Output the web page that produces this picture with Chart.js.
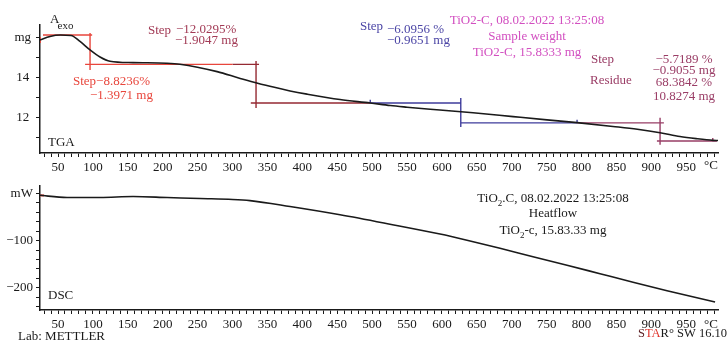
<!DOCTYPE html>
<html>
<head>
<meta charset="utf-8">
<script src="https://cdn.jsdelivr.net/npm/chart.js@4.4.1/dist/chart.umd.min.js"></script>
<style>
  html, body { margin: 0; padding: 0; background: #fff; }
  #wrap { position: relative; width: 728px; height: 343px; overflow: hidden; }
  #tga { position: absolute; left: 0; top: 0; }
  #dsc { position: absolute; left: 0; top: 172px; }
</style>
</head>
<body>
<div id="wrap">
  <canvas id="tga" width="728" height="175" style="width:728px;height:175px"></canvas>
  <canvas id="dsc" width="728" height="171" style="width:728px;height:171px"></canvas>
</div>
<script>
// temperature axis (°C)
const xMin = 24.2, xMax = 995.5;
const xTickLabels = [50, 100, 150, 200, 250, 300, 350, 400, 450, 500, 550, 600, 650, 700, 750, 800, 850, 900, 950];

// TGA curve (mg)
const tempTga = [24.2, 38.5, 53.6, 68.7, 81.5, 95.9, 110.2, 124.5, 157.5, 205.5, 224.6, 278, 311, 333.5, 358.4, 382.4, 406.7, 454, 497.3, 526, 550, 597, 644.6, 702, 750.5, 793.6, 845, 880, 912.5, 941, 965.5, 988.4, 995.5];
const massTga = [15.88, 16.05, 16.12, 16.1, 15.8, 15.38, 15.03, 14.82, 14.75, 14.72, 14.67, 14.3, 13.96, 13.75, 13.53, 13.34, 13.18, 12.91, 12.74, 12.61, 12.53, 12.39, 12.25, 12.06, 11.9, 11.76, 11.57, 11.43, 11.26, 11.07, 10.96, 10.88, 10.87];
const tgaTicks = [16, 14, 12]; // 16 is shown as "mg"

// step evaluation lines [T, mg], null = gap
const stepRed    = [[24.5, 16.02], [24.5, 15.73], null, [28.5, 16.12], [98.9, 16.12], null, [95.9, 16.22], [95.9, 14.38], null, [88.8, 14.66], [300, 14.66]];
const stepDark   = [[300, 14.66], [338, 14.66], null, [333.7, 14.83], [333.7, 12.49], null, [326.2, 12.74], [497.3, 12.74]];
const stepBlue   = [[497.3, 12.74], [497.3, 12.9], null, [497.3, 12.74], [627, 12.74], null, [627, 12.99], [627, 11.55], null, [627, 11.75], [793.6, 11.75], null, [793.6, 11.75], [793.6, 11.9]];
const stepMaroon = [[793.6, 11.75], [918, 11.75], null, [912.5, 12.0], [912.5, 10.66], null, [908, 10.85], [994, 10.85], null, [988, 10.85], [988, 11.0]];

// DSC curve (mW)
const tempDsc = [24.2, 28.5, 62.9, 110.2, 157.5, 206.2, 253.4, 300, 325, 382.4, 454, 525.6, 597.3, 635.9, 683.2, 730.5, 779.2, 826.5, 873.8, 922.5, 991.3];
const heatDsc = [-3.5, -4.3, -8.5, -8.5, -6.4, -8.5, -10.6, -12.5, -15, -27.5, -45, -65, -86, -99, -116, -134, -152, -170, -188, -206, -230];
const dscTicks = [0, -100, -200]; // 0 is shown as "mW"
const dscMark = [[24.4, -4], [30, -4]];

const FONT = 'Liberation Serif';
const INK = '#1a1a1a';

const pts = (xs, ys) => xs.map((x, i) => ({ x: x, y: ys[i] }));
const near = (list, v) => list.find(t => Math.abs(t - v) < 1e-6);
function seg(list){ // turns [x,y] pairs into points, null becomes a gap
  let lastX = 0;
  return list.map(p => {
    if (!p) return { x: lastX, y: null };
    lastX = p[0];
    return { x: p[0], y: p[1] };
  });
}
const lineDs = (data, color, w) => ({
  data, borderColor: color, borderWidth: w, pointRadius: 0, tension: 0, spanGaps: false
});

function put(c, s, x, y, color, align, size){
  c.font = `${size || 13}px "${FONT}"`;
  c.fillStyle = color;
  c.textAlign = align || 'left';
  c.textBaseline = 'middle';
  c.fillText(s, x, y);
}
function rich(c, parts, cx, y, color){ // text with subscripts, centred on cx
  let w = 0;
  parts.forEach(p => { c.font = `${p[1] ? 9 : 13}px "${FONT}"`; w += c.measureText(p[0]).width; });
  let x = cx - w / 2;
  parts.forEach(p => {
    put(c, p[0], x, p[1] ? y + 5 : y, color, 'left', p[1] ? 9 : 13);
    c.font = `${p[1] ? 9 : 13}px "${FONT}"`;
    x += c.measureText(p[0]).width;
  });
}

function xScaleOpts(h){
  return {
    type: 'linear', min: xMin, max: xMax,
    afterFit: s => { s.height = h; },
    border: { color: INK, width: 1.5 },
    grid: { drawOnChartArea: false, tickLength: 4, color: INK, tickWidth: 1 },
    ticks: {
      stepSize: 10, includeBounds: false, autoSkip: false, maxRotation: 0, padding: 3, color: INK,
      font: { family: FONT, size: 13 },
      callback: v => { const t = near(xTickLabels, v); return t !== undefined ? String(t) : ''; }
    }
  };
}

const tgaText = {
  id: 'tgaText',
  afterDraw(chart){
    const c = chart.ctx;
    c.save();
    put(c, 'A', 50, 20, INK);
    put(c, 'exo', 57.5, 26, INK, 'left', 11);
    // step 1
    put(c, 'Step\u22128.8236%', 73, 82, '#e8463c');
    put(c, '\u22121.3971 mg', 90, 96, '#e8463c');
    // step 2
    put(c, 'Step', 148, 31, '#a23a55');
    put(c, '\u221212.0295%', 176, 30, '#a23a55');
    put(c, '\u22121.9047 mg', 175, 41, '#a23a55');
    // step 3
    put(c, 'Step', 360, 27, '#4b45a5');
    put(c, '\u22126.0956 %', 387, 30, '#4b45a5');
    put(c, '\u22120.9651 mg', 387, 41, '#4b45a5');
    // sample info
    put(c, 'TiO2-C, 08.02.2022 13:25:08', 527, 21, '#d24fc0', 'center');
    put(c, 'Sample weight', 527, 37, '#d24fc0', 'center');
    put(c, 'TiO2-C, 15.8333 mg', 527, 53, '#d24fc0', 'center');
    // step 4 + residue
    put(c, 'Step', 591, 60, '#9a3d66');
    put(c, 'Residue', 590, 81, '#9a3d66');
    put(c, '\u22125.7189 %', 684, 60, '#9a3d66', 'center');
    put(c, '\u22120.9055 mg', 684, 71, '#9a3d66', 'center');
    put(c, '68.3842 %', 684, 83, '#9a3d66', 'center');
    put(c, '10.8274 mg', 684, 97, '#9a3d66', 'center');
    put(c, 'TGA', 48, 143, INK);
    put(c, '\u00b0C', 711, 166, INK, 'center');
    c.restore();
  }
};

const dscText = {
  id: 'dscText',
  afterDraw(chart){
    const c = chart.ctx;
    c.save();
    rich(c, [['TiO', 0], ['2', 1], ['.C, 08.02.2022 13:25:08', 0]], 553, 27, INK);
    put(c, 'Heatflow', 553, 42, INK, 'center');
    rich(c, [['TiO', 0], ['2', 1], ['-c, 15.83.33 mg', 0]], 553, 59, INK);
    put(c, 'DSC', 48, 124, INK);
    put(c, '\u00b0C', 711, 153, INK, 'center');
    put(c, 'Lab: METTLER', 18, 165, INK);
    // STAR° SW 16.10, right aligned
    c.font = `12.5px "${FONT}"`;
    const a = c.measureText('S').width, b = c.measureText('TA').width, r = c.measureText('R\u00b0 SW 16.10').width;
    let x = 727 - (a + b + r);
    put(c, 'S', x, 162, '#5a1e22', 'left', 12.5);
    put(c, 'TA', x + a, 162, '#e0332b', 'left', 12.5);
    put(c, 'R\u00b0 SW 16.10', x + a + b, 162, INK, 'left', 12.5);
    c.restore();
  }
};

new Chart(document.getElementById('tga'), {
  type: 'line',
  data: {
    datasets: [
      lineDs(pts(tempTga, massTga), INK, 1.6),
      lineDs(seg(stepRed), '#e8463c', 1.4),
      lineDs(seg(stepDark), '#952a33', 1.4),
      lineDs(seg(stepBlue), '#3f3d9c', 1.4),
      lineDs(seg(stepMaroon), '#983e66', 1.4)
    ]
  },
  options: {
    responsive: false, animation: false,
    layout: { padding: { left: 0, right: 10, top: 25, bottom: 0 } },
    plugins: { legend: { display: false }, tooltip: { enabled: false } },
    elements: { line: { cubicInterpolationMode: 'monotone' } },
    scales: {
      x: xScaleOpts(22),
      y: {
        min: 10.25, max: 16.62,
        afterFit: s => { s.width = 40; },
        border: { color: INK, width: 1.5 },
        grid: { drawOnChartArea: false, tickLength: 4, color: INK },
        ticks: {
          stepSize: 1, includeBounds: false, autoSkip: false, padding: 5, crossAlign: 'center', color: INK,
          font: { family: FONT, size: 13 },
          callback: v => { const t = near(tgaTicks, v); return t === undefined ? '' : (t === 16 ? 'mg' : String(t)); }
        }
      }
    }
  },
  plugins: [tgaText]
});

new Chart(document.getElementById('dsc'), {
  type: 'line',
  data: {
    datasets: [
      lineDs(pts(tempDsc, heatDsc), INK, 1.6),
      lineDs(seg(dscMark), '#e8463c', 2)
    ]
  },
  options: {
    responsive: false, animation: false,
    layout: { padding: { left: 0, right: 10, top: 14, bottom: 0 } },
    plugins: { legend: { display: false }, tooltip: { enabled: false } },
    elements: { line: { cubicInterpolationMode: 'monotone' } },
    scales: {
      x: xScaleOpts(33),
      y: {
        min: -247, max: 16,
        afterFit: s => { s.width = 40; },
        border: { color: INK, width: 1.5 },
        grid: { drawOnChartArea: false, tickLength: 4, color: INK },
        ticks: {
          stepSize: 20, includeBounds: false, autoSkip: false, padding: 3, color: INK,
          font: { family: FONT, size: 13 },
          callback: v => { const t = near(dscTicks, v); return t === undefined ? '' : (t === 0 ? 'mW' : '\u2212' + Math.abs(t)); }
        }
      }
    }
  },
  plugins: [dscText]
});
</script>
</body>
</html>
